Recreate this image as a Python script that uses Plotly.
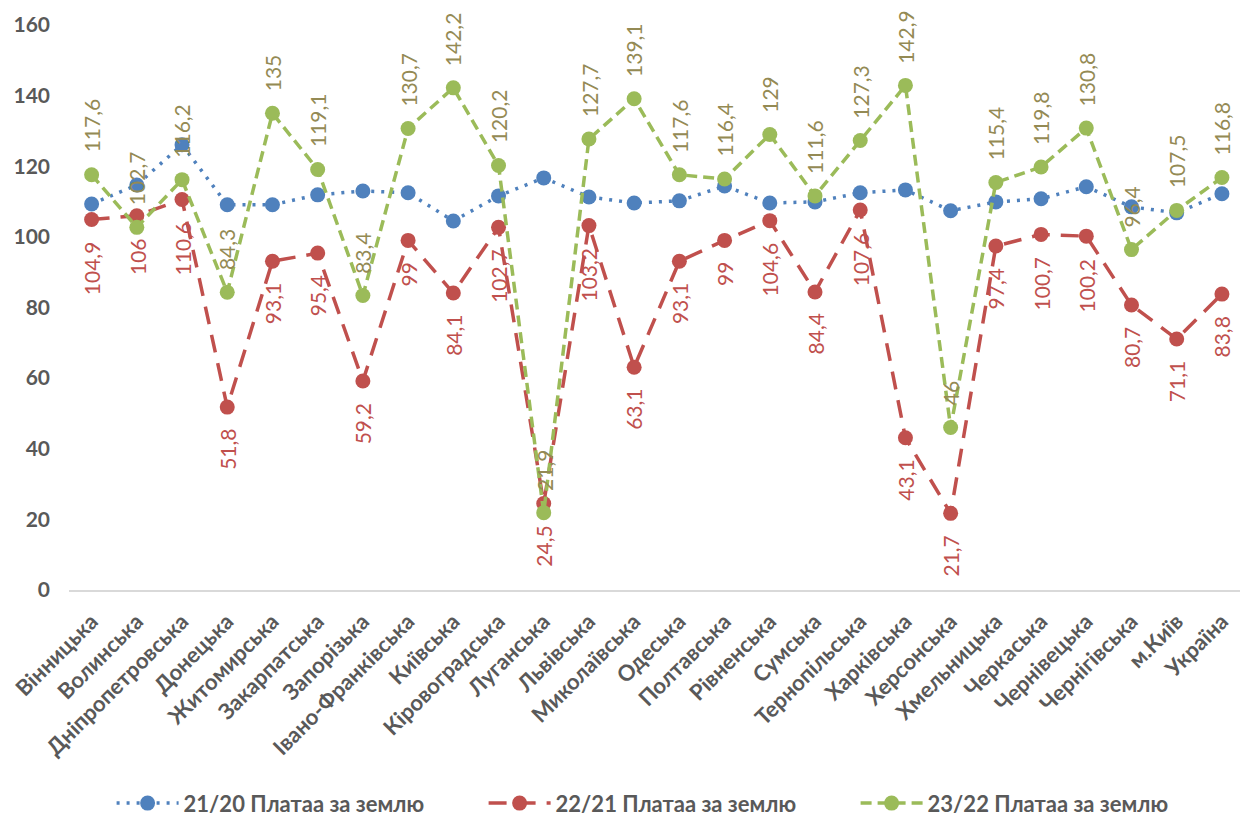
import plotly.graph_objects as go

# Regions (oblasts), Kyiv city and Ukraine total
regions = [
    "Вінницька", "Волинська", "Дніпропетровська", "Донецька", "Житомирська",
    "Закарпатська", "Запорізька", "Івано-Франківська", "Київська", "Кіровоградська",
    "Луганська", "Львівська", "Миколаївська", "Одеська", "Полтавська",
    "Рівненська", "Сумська", "Тернопільська", "Харківська", "Херсонська",
    "Хмельницька", "Черкаська", "Чернівецька", "Чернігівська", "м.Київ", "Україна",
]

# Land payment indices, % of previous year
idx_21_20 = [109.3, 114.7, 126.1, 109.1, 109.1, 111.9, 113.0, 112.5, 104.5, 111.6,
             116.7, 111.3, 109.6, 110.2, 114.4, 109.6, 109.9, 112.5, 113.3, 107.4,
             109.9, 110.8, 114.2, 108.5, 106.8, 112.2]
idx_22_21 = [104.9, 106, 110.6, 51.8, 93.1, 95.4, 59.2, 99, 84.1, 102.7,
             24.5, 103.2, 63.1, 93.1, 99, 104.6, 84.4, 107.6, 43.1, 21.7,
             97.4, 100.7, 100.2, 80.7, 71.1, 83.8]
idx_23_22 = [117.6, 102.7, 116.2, 84.3, 135, 119.1, 83.4, 130.7, 142.2, 120.2,
             21.9, 127.7, 139.1, 117.6, 116.4, 129, 111.6, 127.3, 142.9, 46,
             115.4, 119.8, 130.8, 96.4, 107.5, 116.8]

series_names = ["21/20 Платаа за землю", "22/21 Платаа за землю", "23/22 Платаа за землю"]

BLUE = "#4F81BD"
RED = "#C0504D"
GREEN = "#9BBB59"
OLIVE = "#948A54"
GREY = "#595959"
FONT = "Lato, 'Open Sans', sans-serif"


def fmt(v):
    s = f"{v:.1f}"
    if s.endswith(".0"):
        s = s[:-2]
    return s.replace(".", ",")


fig = go.Figure()

fig.add_trace(go.Scatter(
    x=regions, y=idx_21_20, name=series_names[0], mode="lines+markers",
    line=dict(color=BLUE, width=3.5, dash="3px,7px"),
    marker=dict(color=BLUE, size=15),
))
fig.add_trace(go.Scatter(
    x=regions, y=idx_22_21, name=series_names[1], mode="lines+markers",
    line=dict(color=RED, width=3.5, dash="18px,11px"),
    marker=dict(color=RED, size=15),
))
fig.add_trace(go.Scatter(
    x=regions, y=idx_23_22, name=series_names[2], mode="lines+markers",
    line=dict(color=GREEN, width=3.5, dash="11px,6px"),
    marker=dict(color=GREEN, size=15),
))

annotations = []
for r, v in zip(regions, idx_23_22):
    annotations.append(dict(
        x=r, y=v, xref="x", yref="y", text=fmt(v), showarrow=False,
        textangle=-90, yanchor="bottom", xanchor="center", yshift=20,
        font=dict(family=FONT, size=21, color=OLIVE),
    ))
for r, v in zip(regions, idx_22_21):
    annotations.append(dict(
        x=r, y=v, xref="x", yref="y", text=fmt(v), showarrow=False,
        textangle=-90, yanchor="top", xanchor="center", yshift=-20,
        font=dict(family=FONT, size=21, color=RED),
    ))

fig.update_layout(
    width=1240, height=818,
    margin=dict(l=69, r=0, t=25, b=228),
    paper_bgcolor="white", plot_bgcolor="white",
    font=dict(family=FONT, color=GREY),
    annotations=annotations,
    showlegend=True,
    legend=dict(
        orientation="h", xref="container", yref="container",
        x=0.54, y=0.018, xanchor="center", yanchor="middle",
        font=dict(family=FONT, size=22, color=GREY, weight="bold"),
        itemwidth=62, tracegroupgap=0,
        entrywidth=295, entrywidthmode="pixels",
    ),
)

fig.update_xaxes(
    type="category", range=[-0.5, 25.4],
    showgrid=False, zeroline=False,
    showline=True, linecolor="#D9D9D9", linewidth=2,
    ticks="", tickangle=-45, ticklabelstandoff=8,
    tickfont=dict(family=FONT, size=22, color=GREY, weight="bold"),
)
fig.update_yaxes(
    range=[0, 160], dtick=20, tick0=0,
    showgrid=False, zeroline=False, showline=False,
    ticks="", ticklabelstandoff=18,
    tickfont=dict(family=FONT, size=21, color=GREY, weight="bold"),
)

fig.write_html("out.html")
